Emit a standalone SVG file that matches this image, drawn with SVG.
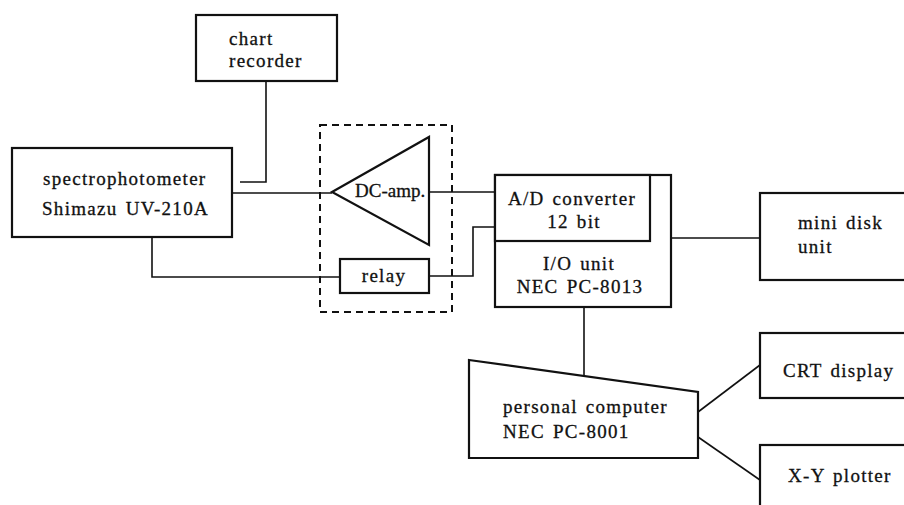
<svg xmlns="http://www.w3.org/2000/svg" width="904" height="505" viewBox="0 0 904 505">
<style>
.box{fill:#fff;stroke:#111;stroke-width:2.2}
.ln{fill:none;stroke:#111;stroke-width:1.6}
.dash{fill:none;stroke:#111;stroke-width:2;stroke-dasharray:7,5}
text{font-family:"Liberation Serif","DejaVu Serif",serif;font-size:19px;fill:#111;stroke:#111;stroke-width:0.3;letter-spacing:1.3px;word-spacing:2px}
</style>
<rect width="904" height="505" fill="#fff"/>
<g id="connectors">
<polyline class="ln" points="266,82 266,182 240,182"/>
<line class="ln" x1="232" y1="193" x2="332" y2="193"/>
<polyline class="ln" points="152,237 152,277 340,277"/>
<line class="ln" x1="429" y1="192" x2="495" y2="192"/>
<polyline class="ln" points="429,276 473,276 473,227 495,227"/>
<line class="ln" x1="671" y1="238" x2="760" y2="238"/>
<line class="ln" x1="584" y1="307" x2="584" y2="375"/>
<line class="ln" x1="698" y1="412" x2="760" y2="365"/>
<line class="ln" x1="698" y1="437" x2="760" y2="480"/>
</g>
<g id="chart-recorder">
<rect class="box" x="196" y="15" width="141" height="66"/>
<text x="229" y="45">chart</text>
<text x="229" y="67">recorder</text>
</g>
<g id="spectrophotometer">
<rect class="box" x="12" y="148" width="220" height="89"/>
<text x="43" y="185">spectrophotometer</text>
<text x="42" y="215">Shimazu UV-210A</text>
</g>
<g id="dashed-enclosure">
<rect class="dash" x="320" y="125" width="132" height="187"/>
</g>
<g id="dc-amp">
<polygon class="box" points="332,192 429,137 429,245" style="fill:none"/>
<text x="355" y="197" style="letter-spacing:0">DC-amp.</text>
</g>
<g id="relay">
<rect class="box" x="340" y="259" width="89" height="34"/>
<text x="384" y="282" text-anchor="middle">relay</text>
</g>
<g id="io-unit">
<rect class="box" x="495" y="175" width="176" height="132"/>
<text x="579" y="270" text-anchor="middle">I/O unit</text>
<text x="580" y="293" text-anchor="middle">NEC PC-8013</text>
</g>
<g id="ad-converter">
<rect class="box" x="495" y="175" width="155" height="66"/>
<text x="572" y="205" text-anchor="middle">A/D converter</text>
<text x="574" y="228" text-anchor="middle">12 bit</text>
</g>
<g id="mini-disk">
<rect class="box" x="760" y="193" width="160" height="87"/>
<text x="798" y="229">mini disk</text>
<text x="798" y="253">unit</text>
</g>
<g id="personal-computer">
<polygon class="box" points="469,360 698,392 698,458 469,458"/>
<text x="503" y="413">personal computer</text>
<text x="503" y="438">NEC PC-8001</text>
</g>
<g id="crt-display">
<rect class="box" x="760" y="333" width="160" height="65"/>
<text x="783" y="377">CRT display</text>
</g>
<g id="xy-plotter">
<rect class="box" x="760" y="445" width="160" height="80"/>
<text x="788" y="482">X-Y plotter</text>
</g>
</svg>
